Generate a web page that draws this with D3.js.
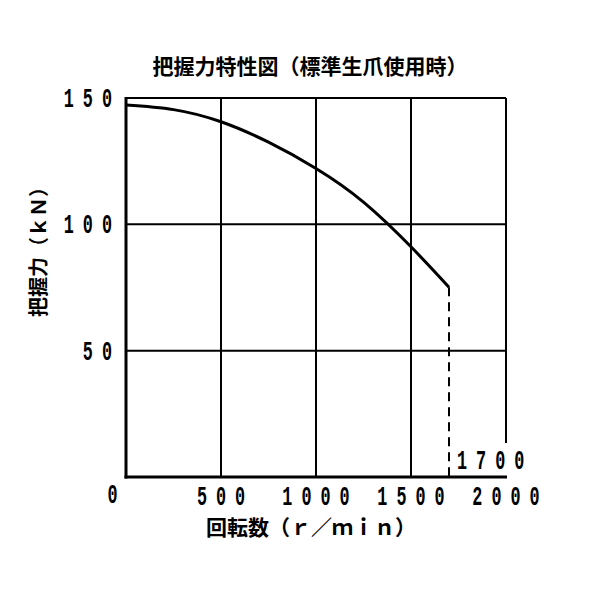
<!DOCTYPE html>
<html><head><meta charset="utf-8">
<script src="https://cdn.jsdelivr.net/npm/d3@7"></script>
<style>body{margin:0;background:#fff}</style>
</head><body>
<svg id="c" width="600" height="600"></svg>
<script>
const rpm =   [0,     250,   500,   750,   1000,  1250,  1500, 1700];
const force = [147.2, 145.4, 140.6, 132.5, 122.1, 108.8, 91.1, 75.1];
const xTicks = [500, 1000, 1500, 2000];
const yTicks = [50, 100, 150];
const endRpm = 1700;
const title = "把握力特性図（標準生爪使用時）";
const xTitle = "回転数（ｒ／ｍｉｎ）";
const yTitle = "把握力（ｋＮ）";

const svg = d3.select("#c");
const x = d3.scaleLinear().domain([0, 2000]).range([126, 506]);
const y = d3.scaleLinear().domain([0, 150]).range([477, 98]);
const numFont = "Liberation Mono";

// grid
const g = svg.append("g");
g.selectAll("line.v").data(xTicks.filter(d => d < 2000)).join("line")
  .attr("x1", d => x(d)).attr("x2", d => x(d)).attr("y1", y(0)).attr("y2", y(150))
  .attr("stroke", "#000").attr("stroke-width", 2);
g.append("line").attr("x1", x(2000)).attr("x2", x(2000)).attr("y1", y(150)).attr("y2", 443)
  .attr("stroke", "#000").attr("stroke-width", 2);
g.selectAll("line.h").data(yTicks).join("line")
  .attr("x1", x(0)).attr("x2", x(2000)).attr("y1", d => y(d)).attr("y2", d => y(d))
  .attr("stroke", "#000").attr("stroke-width", 2);

// axes
svg.append("line").attr("x1", x(0)).attr("x2", x(0)).attr("y1", y(150) - 1).attr("y2", y(0) + 1.5)
  .attr("stroke", "#000").attr("stroke-width", 3);
svg.append("line").attr("x1", x(0) - 1.5).attr("x2", x(2000) + 1).attr("y1", y(0)).attr("y2", y(0))
  .attr("stroke", "#000").attr("stroke-width", 3);

// curve
svg.append("path").datum(rpm.map((r, i) => [r, force[i]]))
  .attr("d", d3.line().x(d => x(d[0])).y(d => y(d[1])).curve(d3.curveNatural))
  .attr("fill", "none").attr("stroke", "#000").attr("stroke-width", 3);
svg.append("line").attr("x1", x(endRpm)).attr("x2", x(endRpm))
  .attr("y1", y(force[force.length - 1])).attr("y2", y(0))
  .attr("stroke", "#000").attr("stroke-width", 2).attr("stroke-dasharray", "9,6");

// numeric labels: narrow, tall digits with wide spacing
const SX = 0.6, LS = 15;
function num(xp, yp, txt, anchor) {
  svg.append("text")
    .attr("transform", `translate(${xp},${yp}) scale(${SX},1)`)
    .attr("text-anchor", anchor)
    .attr("font-family", numFont).attr("font-size", 28).attr("font-weight", 700)
    .attr("letter-spacing", LS)
    .text(txt);
}
yTicks.forEach(d => num(112 + LS * SX, y(d) + 9, String(d), "end"));
xTicks.forEach(d => num(x(d) + LS * SX / 2, 505, String(d), "middle"));
num(117, 503, "0", "middle");
num(457, 469, String(endRpm), "start");

// titles
const cjk = "'Noto Sans CJK JP', sans-serif";
svg.append("text").attr("x", 310).attr("y", 74).attr("text-anchor", "middle")
  .attr("font-family", cjk).attr("font-size", 21).attr("font-weight", 700).text(title);
svg.append("text").attr("x", 311).attr("y", 535).attr("text-anchor", "middle")
  .attr("font-family", cjk).attr("font-size", 21).attr("font-weight", 700).text(xTitle);
svg.append("text").attr("transform", "translate(46,247) rotate(-90)").attr("text-anchor", "middle")
  .attr("font-family", cjk).attr("font-size", 20).attr("font-weight", 700).text(yTitle);
</script>
</body></html>
